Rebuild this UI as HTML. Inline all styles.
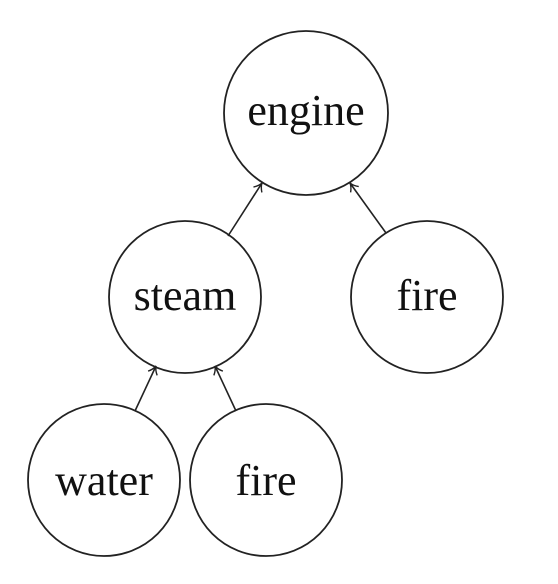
<!DOCTYPE html>
<html><head><meta charset="utf-8"><style>
html,body{margin:0;padding:0;background:#fff;}
svg text{font-family:"Liberation Serif",serif;font-size:44px;fill:#111;text-anchor:middle;}
</style></head><body>
<svg width="558" height="579" viewBox="0 0 558 579" xmlns="http://www.w3.org/2000/svg">
<defs><marker id="a" markerWidth="12" markerHeight="12" refX="10" refY="6" orient="auto" markerUnits="userSpaceOnUse">
<path d="M2,1 Q6,5 10,6 Q6,7 2,11" fill="none" stroke="#222" stroke-width="1.4"/></marker></defs>
<g fill="none" stroke="#222" stroke-width="1.8">
<circle cx="306" cy="113" r="82"/>
<circle cx="185" cy="297" r="76"/>
<circle cx="427" cy="297" r="76"/>
<circle cx="104" cy="480" r="76"/>
<circle cx="266" cy="480" r="76"/>
</g>
<g stroke="#222" stroke-width="1.6" fill="none">
<line x1="228" y1="236" x2="262" y2="183" marker-end="url(#a)"/>
<line x1="386" y1="233" x2="350" y2="183" marker-end="url(#a)"/>
<line x1="135" y1="411" x2="156" y2="366" marker-end="url(#a)"/>
<line x1="236" y1="411" x2="215" y2="366" marker-end="url(#a)"/>
</g>
<text x="306" y="125">engine</text>
<text x="185" y="310">steam</text>
<text x="427" y="310">fire</text>
<text x="104" y="495">water</text>
<text x="266" y="495">fire</text>
</svg>
</body></html>
